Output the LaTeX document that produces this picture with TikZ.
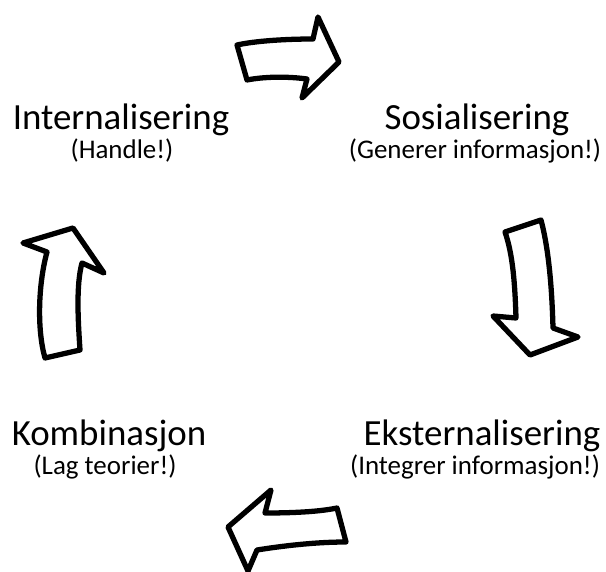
\documentclass[tikz,border=0pt]{standalone}
\usepackage{fontspec}
\setmainfont{Carlito}
\tikzset{
  blockarrow/.style={draw=black, fill=white, line width=4.5pt, line join=round},
  fase/.style={anchor=base, inner sep=0pt, font=\fontsize{31.5}{31.5}\selectfont},
  handling/.style={anchor=base, inner sep=0pt, font=\fontsize{23}{23}\selectfont},
}
\begin{document}
\begin{tikzpicture}[x=0.03cm, y=-0.03cm, line join=round, line cap=round]
\useasboundingbox (0,0) rectangle (606,572);
% faser
\node[fase] (int) at (121,130) {Internalisering};
\node[handling] (inttekst) at (122,159) {(Handle!)};
\node[fase] (sos) at (477,130) {Sosialisering};
\node[handling] (sostekst) at (475,159) {(Generer informasjon!)};
\node[fase] (kom) at (109,446) {Kombinasjon};
\node[handling] (komtekst) at (105,475) {(Lag teorier!)};
\node[fase] (eks) at (482,446) {Eksternalisering};
\node[handling] (ekstekst) at (475,475) {(Integrer informasjon!)};
% pil oppe
\path
(237,45) coordinate (A1)
(313,39) coordinate (A2)
(318,17) coordinate (A3)
(339,62) coordinate (A4)
(302,98) coordinate (A5)
(307,79) coordinate (A6)
(247,80) coordinate (A7)
;
\draw[blockarrow]
(A1) .. controls (255,41) and (285,39) .. (A2)
-- (A3) -- (A4) -- (A5) -- (A6)
.. controls (285,76) and (262,77) .. (A7)
-- cycle;
% pil til hoyre
\path
(505,232) coordinate (B1)
(541,220) coordinate (B2)
(553,328) coordinate (B3)
(578,337) coordinate (B4)
(530,355) coordinate (B5)
(493,316) coordinate (B6)
(516,318) coordinate (B7)
;
\draw[blockarrow]
(B1) -- (B2)
.. controls (549,250) and (552,290) .. (B3)
-- (B4) -- (B5) -- (B6) -- (B7)
.. controls (515,285) and (513,255) .. (B1);
% pil nede
\path
(337,508) coordinate (C1)
(346,542) coordinate (C2)
(257,550) coordinate (C3)
(248,571) coordinate (C4)
(228,527) coordinate (C5)
(271,490) coordinate (C6)
(265,513) coordinate (C7)
;
\draw[blockarrow]
(C1) -- (C2)
.. controls (315,542) and (282,546) .. (C3)
-- (C4) -- (C5) -- (C6) -- (C7)
.. controls (290,513) and (318,512) .. (C1);
% pil til venstre
\path
(45,358) coordinate (D1)
(80,350) coordinate (D2)
(82,263) coordinate (D3)
(104,273) coordinate (D4)
(73,228) coordinate (D5)
(23,243) coordinate (D6)
(47,252) coordinate (D7)
;
\draw[blockarrow]
(D1) -- (D2)
.. controls (78,320) and (76,285) .. (D3)
-- (D4) -- (D5) -- (D6) -- (D7)
.. controls (38,285) and (37,330) .. (D1);
\end{tikzpicture}
\end{document}
